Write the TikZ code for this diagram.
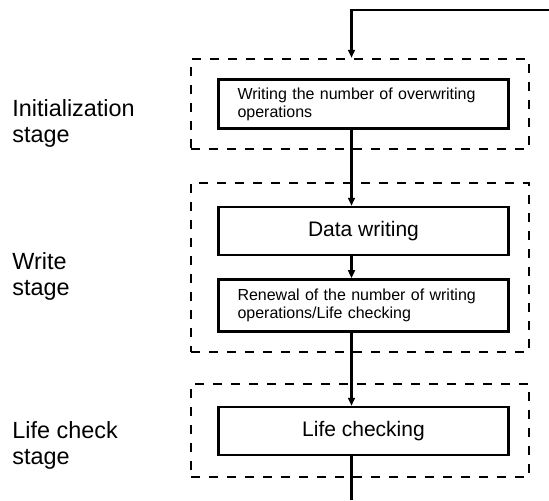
\documentclass[tikz,border=0pt]{standalone}
\usepackage{fontspec}
\setmainfont{Liberation Sans}
\usetikzlibrary{arrows.meta, positioning, calc}

\begin{document}
\begin{tikzpicture}[x=0.5pt, y=-0.5pt,
  stagebox/.style={draw, line width=1.2pt, dash pattern=on 4.5pt off 4.5pt,
                   minimum width=169pt, inner sep=0pt},
  stepbox/.style={draw, line width=1.2pt, fill=white, minimum width=145pt,
                  minimum height=24pt, inner sep=0pt, font=\fontsize{10.5}{12}\selectfont},
  notebox/.style={stepbox, align=left, text width=126pt, inner xsep=9.5pt,
                  font=\fontsize{8}{9}\selectfont},
  stage/.style={anchor=base west, align=left, inner sep=0pt,
                font=\fontsize{11.7}{13}\selectfont},
  arr/.style={-{Triangle[length=4pt, width=3.4pt]}, line width=1.2pt},
  flow/.style={line width=1.2pt}
]
\useasboundingbox (0,0) rectangle (549,500);
\node[stagebox, minimum height=45pt] (initstage) at (360,104) {};
\node[stagebox, minimum height=84.5pt] (writestage) at (360,267.5) {};
\node[stagebox, minimum height=46.5pt] (lifestage) at (360,430.5) {};
\node[notebox, minimum height=24.5pt] (countstep) at (363.5,104)
  {Writing the number of overwriting\\operations};
\node[stepbox] (datastep) at (363.5,231) {Data writing};
\node[notebox, minimum height=26pt, below=11pt of datastep] (renewstep)
  {Renewal of the number of writing\\operations/Life checking};
\node[stepbox] (lifestep) at (363.5,431) {Life checking};
\node[stage] (initlbl) at (12,142) {Initialization\\stage};
\node[stage] (writelbl) at (12,295) {Write\\stage};
\node[stage] (lifelbl) at (12,464) {Life check\\stage};
\coordinate (spine) at (351.5,0);
\coordinate (entry) at (549,10);
\coordinate (exit) at (351.5,500);
\draw[arr] (entry) -| (spine |- initstage.north);
\draw[arr] (countstep.south -| spine) -- (datastep.north -| spine);
\draw[arr] (datastep.south -| spine) -- (renewstep.north -| spine);
\draw[arr] (renewstep.south -| spine) -- (lifestep.north -| spine);
\draw[flow] (lifestep.south -| spine) -- (exit);
\end{tikzpicture}
\end{document}
